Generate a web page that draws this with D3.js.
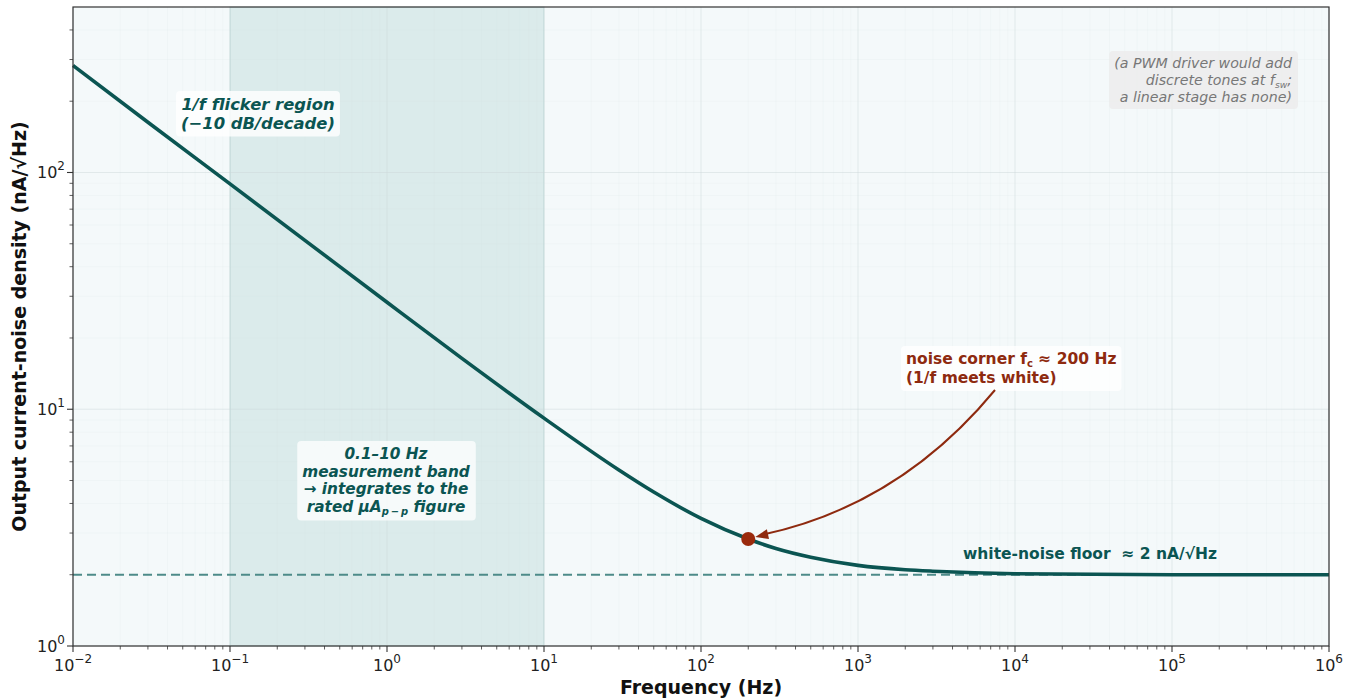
<!DOCTYPE html>
<html lang="en">
<head>
  <meta charset="UTF-8">
  <title>Output current-noise density</title>
  <script src="https://d3js.org/d3.v7.min.js"></script>
  <style>
    body {
      margin: 0;
      background: #ffffff;
      font-family: "DejaVu Sans", Arial, sans-serif;
    }
    .tick-label {
      font-size: 16px;
      fill: #222;
    }
    .axis-title {
      font-size: 19px;
      font-weight: bold;
      fill: #111;
    }
  </style>
</head>
<body>
  <svg id="chart" width="1356" height="698"></svg>

  <script>
    // Noise density (nA/sqrt(Hz)) at each frequency (Hz)
    const freqs   = [0.01, 0.03, 0.1, 0.3, 1, 3, 10, 30, 50, 100, 200, 300, 500, 1000, 2000, 3000, 10000, 100000, 1000000];
    const density = [283, 163, 89.5, 51.7, 28.3, 16.4, 9.17, 5.54, 4.47, 3.46, 2.83, 2.58, 2.37, 2.19, 2.10, 2.07, 2.02, 2.00, 2.00];

    const whiteFloor = 2;
    const cornerFreq = 200;
    const cornerValue = 2.83;
    const band = [0.1, 10];

    const xDomain = [1e-2, 1e6];
    const yDomain = [1, 500];
    const xMajor = [-2, -1, 0, 1, 2, 3, 4, 5, 6];
    const yMajor = [0, 1, 2];

    const teal = "#0b5552";
    const rust = "#8e2a0f";

    const svg = d3.select("#chart");
    const margin = { left: 73, right: 27, top: 7, bottom: 52 };
    const W = 1356, H = 698;
    const x0 = margin.left, x1 = W - margin.right;
    const y0 = H - margin.bottom, y1 = margin.top;

    const x = d3.scaleLog().domain(xDomain).range([x0, x1]);
    const y = d3.scaleLog().domain(yDomain).range([y0, y1]);

    // plot background
    svg.append("rect")
      .attr("x", x0).attr("y", y1)
      .attr("width", x1 - x0).attr("height", y0 - y1)
      .attr("fill", "#f4f9fa");

    // minor ticks / grid values
    const xMinor = [];
    for (let e = -2; e < 6; e++) for (let m = 2; m <= 9; m++) xMinor.push(m * Math.pow(10, e));
    const yMinor = [];
    for (let e = 0; e < 3; e++) for (let m = 2; m <= 9; m++) {
      const v = m * Math.pow(10, e);
      if (v < yDomain[1]) yMinor.push(v);
    }

    // measurement band
    svg.append("rect")
      .attr("x", x(band[0])).attr("y", y1)
      .attr("width", x(band[1]) - x(band[0])).attr("height", y0 - y1)
      .attr("fill", "#2a8a86").attr("fill-opacity", 0.12)
      .attr("stroke", "#2a8a86").attr("stroke-opacity", 0.18).attr("stroke-width", 1);

    const grid = svg.append("g");
    grid.selectAll(".gxm").data(xMinor).enter().append("line")
      .attr("x1", d => x(d)).attr("x2", d => x(d))
      .attr("y1", y1).attr("y2", y0)
      .attr("stroke", "#d3dddf").attr("stroke-opacity", 0.22).attr("stroke-width", 0.6);
    grid.selectAll(".gym").data(yMinor).enter().append("line")
      .attr("x1", x0).attr("x2", x1)
      .attr("y1", d => y(d)).attr("y2", d => y(d))
      .attr("stroke", "#d3dddf").attr("stroke-opacity", 0.22).attr("stroke-width", 0.6);
    grid.selectAll(".gx").data(xMajor).enter().append("line")
      .attr("x1", d => x(Math.pow(10, d))).attr("x2", d => x(Math.pow(10, d)))
      .attr("y1", y1).attr("y2", y0)
      .attr("stroke", "#cdd6d9").attr("stroke-opacity", 0.6).attr("stroke-width", 0.8);
    grid.selectAll(".gy").data(yMajor).enter().append("line")
      .attr("x1", x0).attr("x2", x1)
      .attr("y1", d => y(Math.pow(10, d))).attr("y2", d => y(Math.pow(10, d)))
      .attr("stroke", "#cdd6d9").attr("stroke-opacity", 0.6).attr("stroke-width", 0.8);

    // white-noise floor reference
    svg.append("line")
      .attr("x1", x0).attr("x2", x1)
      .attr("y1", y(whiteFloor)).attr("y2", y(whiteFloor))
      .attr("stroke", "#4d8b89").attr("stroke-width", 2)
      .attr("stroke-dasharray", "9,5");

    // noise curve
    const line = d3.line()
      .x((d, i) => x(freqs[i]))
      .y(d => y(d))
      .curve(d3.curveMonotoneX);
    svg.append("path")
      .datum(density)
      .attr("d", line)
      .attr("fill", "none")
      .attr("stroke", teal)
      .attr("stroke-width", 3.6);

    // frame
    svg.append("rect")
      .attr("x", x0).attr("y", y1)
      .attr("width", x1 - x0).attr("height", y0 - y1)
      .attr("fill", "none").attr("stroke", "#333").attr("stroke-width", 1.2);

    // ticks
    const ticks = svg.append("g").attr("stroke", "#333");
    ticks.selectAll(".xt").data(xMajor).enter().append("line")
      .attr("x1", d => x(Math.pow(10, d))).attr("x2", d => x(Math.pow(10, d)))
      .attr("y1", y0).attr("y2", y0 + 6).attr("stroke-width", 1.1);
    ticks.selectAll(".xtm").data(xMinor).enter().append("line")
      .attr("x1", d => x(d)).attr("x2", d => x(d))
      .attr("y1", y0).attr("y2", y0 + 3.5).attr("stroke-width", 0.8);
    ticks.selectAll(".yt").data(yMajor).enter().append("line")
      .attr("x1", x0 - 6).attr("x2", x0)
      .attr("y1", d => y(Math.pow(10, d))).attr("y2", d => y(Math.pow(10, d))).attr("stroke-width", 1.1);
    ticks.selectAll(".ytm").data(yMinor).enter().append("line")
      .attr("x1", x0 - 3.5).attr("x2", x0)
      .attr("y1", d => y(d)).attr("y2", d => y(d)).attr("stroke-width", 0.8);

    function powLabel(sel, e) {
      sel.append("tspan").text("10");
      sel.append("tspan").attr("dy", -8).attr("font-size", 12)
        .text(e < 0 ? "\u2212" + (-e) : String(e));
    }
    xMajor.forEach(e => {
      const t = svg.append("text").attr("class", "tick-label")
        .attr("x", x(Math.pow(10, e))).attr("y", y0 + 25)
        .attr("text-anchor", "middle");
      powLabel(t, e);
    });
    yMajor.forEach(e => {
      const t = svg.append("text").attr("class", "tick-label")
        .attr("x", x0 - 8).attr("y", y(Math.pow(10, e)) + 6)
        .attr("text-anchor", "end");
      powLabel(t, e);
    });

    svg.append("text").attr("class", "axis-title")
      .attr("x", (x0 + x1) / 2).attr("y", 694)
      .attr("text-anchor", "middle")
      .text("Frequency (Hz)");
    svg.append("text").attr("class", "axis-title")
      .attr("transform", `translate(26, ${(y0 + y1) / 2}) rotate(-90)`)
      .attr("text-anchor", "middle")
      .text("Output current-noise density (nA/\u221AHz)");

    // boxed multi-line label helper
    function boxedText(lines, cx, cy, opts) {
      const g = svg.append("g");
      const rect = g.append("rect");
      const t = g.append("text")
        .attr("font-size", opts.size)
        .attr("font-weight", opts.weight || "normal")
        .attr("font-style", opts.style || "normal")
        .attr("fill", opts.color)
        .attr("text-anchor", opts.anchor || "middle");
      lines.forEach((ln, i) => {
        const ts = t.append("tspan").attr("x", cx).attr("y", cy + i * opts.lh);
        ln.forEach(part => {
          const p = ts.append("tspan").text(part.t);
          if (part.sub) p.attr("font-size", opts.size * 0.65).attr("dy", 3);
          if (part.back) p.attr("dy", -3);
        });
      });
      const bb = t.node().getBBox();
      const pad = opts.pad || 5;
      rect.attr("x", bb.x - pad).attr("y", bb.y - pad + 1)
        .attr("width", bb.width + 2 * pad).attr("height", bb.height + 2 * pad - 2)
        .attr("rx", 4)
        .attr("fill", opts.bg).attr("fill-opacity", opts.bgOpacity);
      return g;
    }

    boxedText([[{ t: "1/f flicker region" }], [{ t: "(\u221210 dB/decade)" }]],
      258, 110, { size: 16.4, weight: "bold", style: "italic", color: teal, lh: 18.5, bg: "#ffffff", bgOpacity: 0.8 });

    boxedText([
      [{ t: "0.1\u201310 Hz" }],
      [{ t: "measurement band" }],
      [{ t: "\u2192 integrates to the" }],
      [{ t: "rated \u03BCA" }, { t: "p\u2009\u2212\u2009p", sub: true }, { t: " figure", back: true }]
    ], 386, 459, { size: 15.3, weight: "bold", style: "italic", color: teal, lh: 17.5, bg: "#ffffff", bgOpacity: 0.75 });

    boxedText([
      [{ t: "(a PWM driver would add" }],
      [{ t: "discrete tones at f" }, { t: "sw", sub: true }, { t: ";", back: true }],
      [{ t: "a linear stage has none)" }]
    ], 1292, 68, { size: 14.2, style: "italic", color: "#777", lh: 17, anchor: "end", bg: "#ececec", bgOpacity: 0.85 });

    boxedText([
      [{ t: "noise corner f" }, { t: "c", sub: true }, { t: " \u2248 200 Hz", back: true }],
      [{ t: "(1/f meets white)" }]
    ], 906, 364, { size: 15.5, weight: "bold", color: rust, lh: 19, anchor: "start", bg: "#ffffff", bgOpacity: 0.8 });

    svg.append("text")
      .attr("x", 963).attr("y", 559)
      .attr("font-size", 15.5).attr("font-weight", "bold").attr("fill", teal)
      .attr("xml:space", "preserve")
      .text("white-noise floor  \u2248 2 nA/\u221AHz");

    // corner arrow
    const mx = x(cornerFreq), my = y(cornerValue);
    const sx = 995, sy = 390;
    const ex = mx + 7, ey = my - 2;
    const cx = 900, cy = 505;
    svg.append("path")
      .attr("d", `M${sx},${sy} Q${cx},${cy} ${ex + 8},${ey - 2.5}`)
      .attr("fill", "none").attr("stroke", rust).attr("stroke-width", 2);
    const ang = Math.atan2(ey - cy, ex - cx);
    const hl = 13, hw = 5;
    const bx = ex - hl * Math.cos(ang), by = ey - hl * Math.sin(ang);
    svg.append("path")
      .attr("d", `M${ex},${ey} L${bx + hw * Math.sin(ang)},${by - hw * Math.cos(ang)} L${bx - hw * Math.sin(ang)},${by + hw * Math.cos(ang)} Z`)
      .attr("fill", rust);

    svg.append("circle")
      .attr("cx", mx).attr("cy", my).attr("r", 7)
      .attr("fill", "#9a2a0c");
  </script>
</body>
</html>
